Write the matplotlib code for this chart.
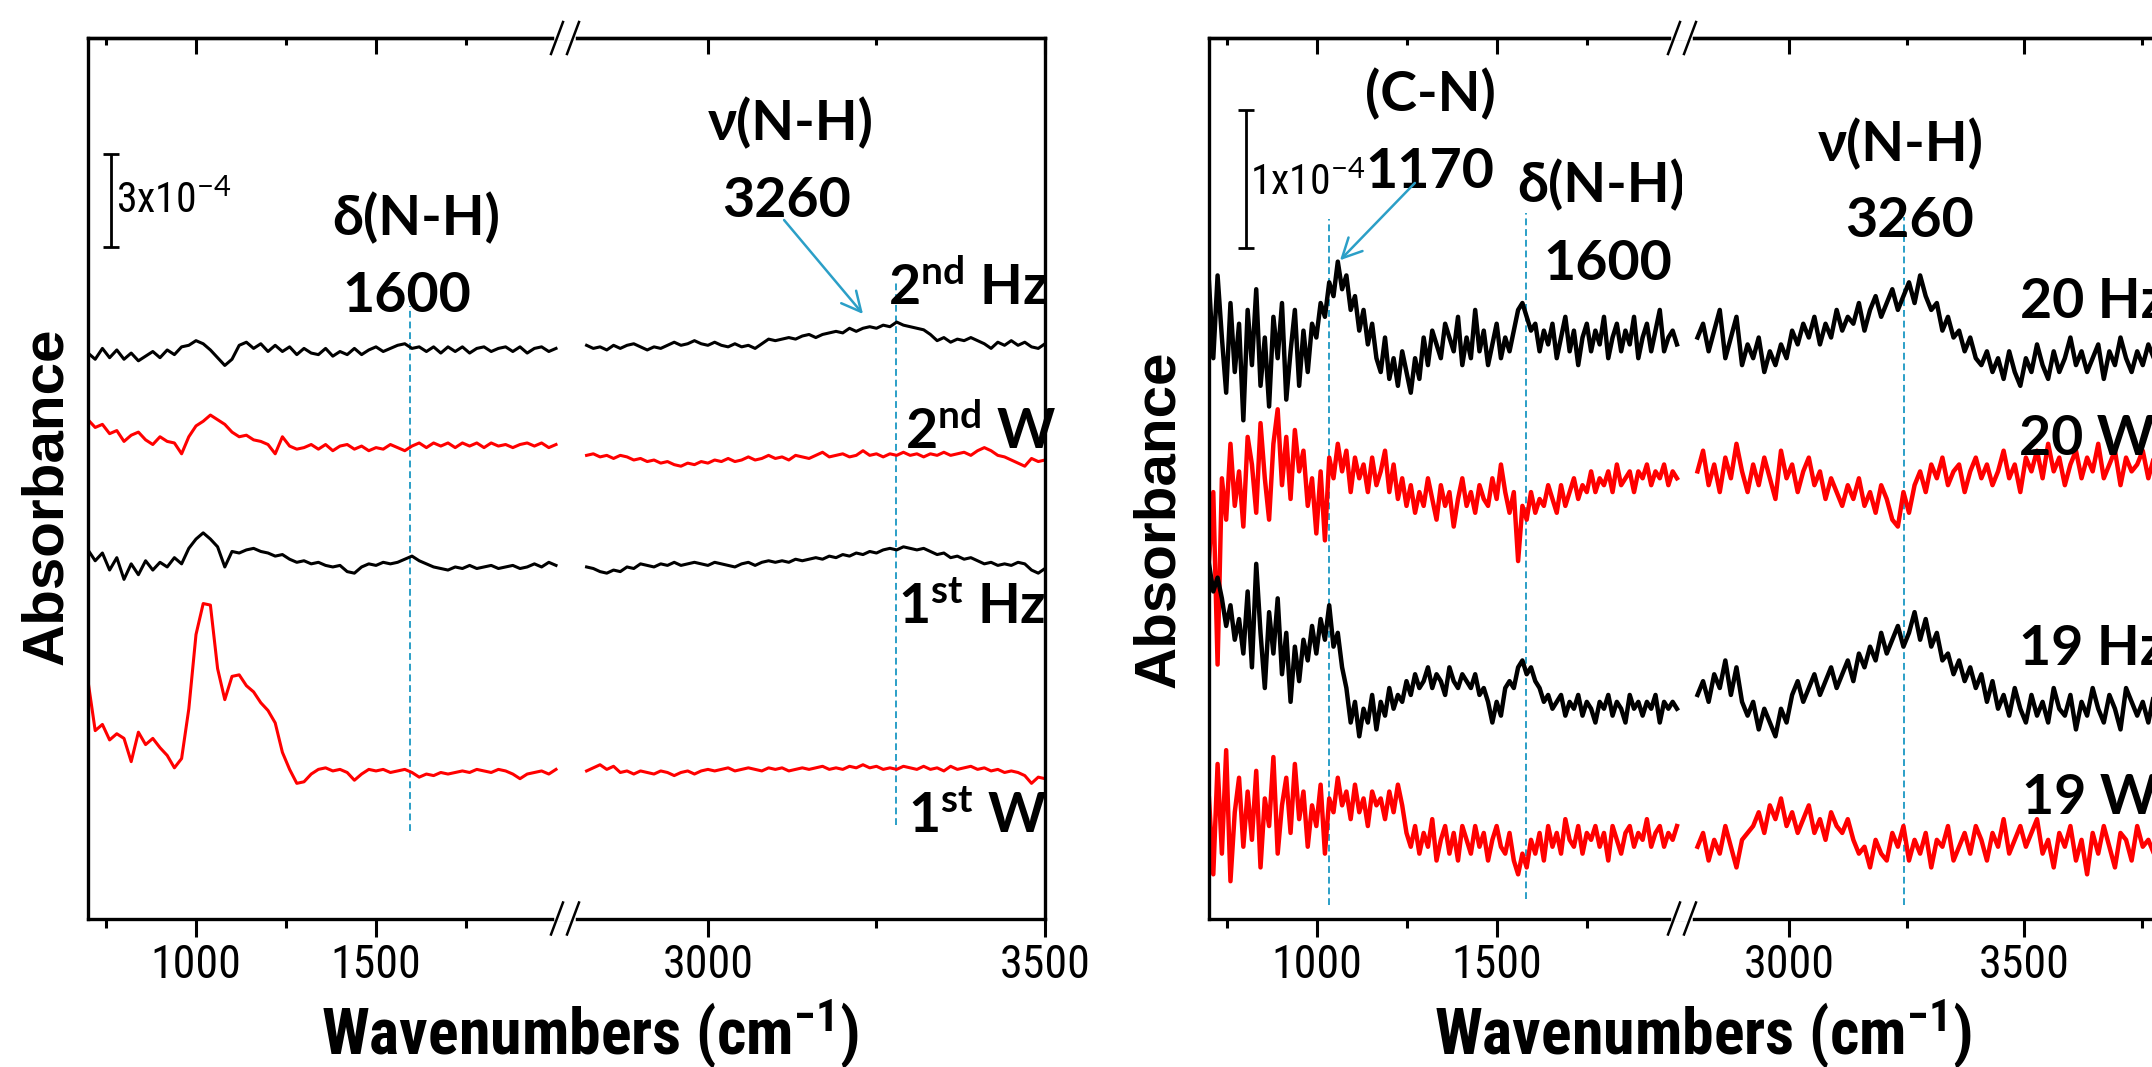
import numpy as np
import matplotlib.pyplot as plt
from matplotlib import font_manager
from matplotlib.lines import Line2D
from matplotlib.ticker import FixedLocator

# narrow sans if there is one, otherwise plain Liberation Sans at a smaller size
installed = {f.name for f in font_manager.fontManager.ttflist}
NARROW = next((n for n in ['Liberation Sans Narrow', 'Arial Narrow', 'Roboto Condensed']
               if n in installed), None)
if NARROW:
    TICK_FONT, TICK_SIZE, XLAB_SIZE, BAR_SIZE = NARROW, 33, 46, 30
else:
    TICK_FONT, TICK_SIZE, XLAB_SIZE, BAR_SIZE = 'Liberation Sans', 28, 38, 26

plt.rcParams['mathtext.fontset'] = 'custom'
plt.rcParams['mathtext.rm'] = 'Lato'
plt.rcParams['mathtext.bf'] = 'Lato:bold'
plt.rcParams['mathtext.it'] = TICK_FONT
plt.rcParams['mathtext.sf'] = TICK_FONT + ':bold'

# ---------------- data (absorbance, units of 1e-4, relative to each trace's baseline) ----------------
# left panel: 1st/2nd cycle, low part 700-2000 and high part 2820-3500 cm-1
left_lo_range = (700, 2000)
left_hi_range = (2820, 3500)
left_names = ['2nd Hz', '2nd W', '1st Hz', '1st W']
left_offsets = [18.34, 15.24, 11.44, 4.76]

hz2_lo = [-0.10, -0.30, 0.05, -0.25, 0.00, -0.30, -0.10, -0.35, -0.20, -0.05,
          -0.25, 0.00, -0.15, 0.10, 0.15, 0.30, 0.20, 0.00, -0.25, -0.50,
          -0.30, 0.15, 0.25, 0.05, 0.20, -0.05, 0.15, -0.05, 0.10, -0.15,
          0.05, -0.10, -0.15, 0.05, -0.20, -0.05, -0.15, 0.05, -0.15, 0.00,
          0.10, -0.05, 0.05, 0.15, 0.20, 0.05, 0.10, -0.05, 0.10, -0.10,
          0.10, -0.05, 0.10, -0.10, 0.05, 0.10, -0.05, 0.05, 0.10, -0.05,
          0.10, -0.10, 0.05, 0.10, -0.05, 0.05]
hz2_hi = [0.15, 0.05, 0.10, 0.00, 0.15, 0.05, 0.15, 0.20, 0.10, 0.00,
          0.10, 0.05, 0.15, 0.25, 0.15, 0.20, 0.30, 0.20, 0.15, 0.25,
          0.15, 0.10, 0.20, 0.10, 0.15, 0.05, 0.20, 0.35, 0.30, 0.35,
          0.40, 0.35, 0.45, 0.50, 0.40, 0.50, 0.55, 0.60, 0.55, 0.70,
          0.60, 0.70, 0.75, 0.70, 0.80, 0.75, 0.90, 0.80, 0.75, 0.70,
          0.65, 0.50, 0.30, 0.40, 0.25, 0.35, 0.30, 0.40, 0.30, 0.20,
          0.05, 0.25, 0.15, 0.30, 0.15, 0.25, 0.10, 0.05, 0.20]
w2_lo = [0.85, 0.60, 0.70, 0.40, 0.50, 0.15, 0.35, 0.45, 0.20, 0.05,
         0.30, 0.15, 0.10, -0.25, 0.30, 0.65, 0.80, 1.00, 0.85, 0.70,
         0.45, 0.30, 0.35, 0.20, 0.15, 0.05, -0.25, 0.30, 0.00, -0.10,
         -0.05, 0.05, -0.10, 0.05, -0.15, 0.00, 0.05, -0.10, 0.00, -0.15,
         -0.05, -0.10, 0.05, -0.05, -0.15, 0.00, 0.10, -0.05, 0.10, 0.00,
         0.10, -0.05, 0.10, 0.00, 0.10, -0.05, 0.10, 0.00, 0.05, -0.05,
         0.05, 0.10, 0.00, 0.10, -0.05, 0.05]
w2_hi = [-0.30, -0.25, -0.35, -0.30, -0.40, -0.30, -0.35, -0.45, -0.40, -0.50,
         -0.45, -0.55, -0.50, -0.60, -0.65, -0.55, -0.60, -0.50, -0.55, -0.45,
         -0.50, -0.40, -0.50, -0.45, -0.35, -0.45, -0.40, -0.30, -0.40, -0.35,
         -0.45, -0.30, -0.35, -0.40, -0.30, -0.20, -0.35, -0.30, -0.25, -0.35,
         -0.30, -0.15, -0.30, -0.25, -0.35, -0.25, -0.30, -0.20, -0.30, -0.25,
         -0.35, -0.25, -0.30, -0.20, -0.30, -0.25, -0.20, -0.30, -0.15, -0.05,
         -0.15, -0.30, -0.35, -0.45, -0.55, -0.65, -0.40, -0.50, -0.45]
hz1_lo = [0.45, 0.10, 0.35, -0.20, 0.20, -0.50, 0.00, -0.35, 0.10, -0.20,
          0.05, -0.10, 0.20, 0.00, 0.50, 0.80, 1.00, 0.80, 0.55, -0.10,
          0.40, 0.35, 0.45, 0.50, 0.40, 0.35, 0.25, 0.30, 0.15, 0.05,
          0.10, 0.00, 0.05, -0.05, -0.10, -0.05, -0.25, -0.30, -0.10, 0.00,
          -0.05, 0.05, 0.00, 0.05, 0.15, 0.25, 0.10, 0.00, -0.10, -0.15,
          -0.20, -0.10, -0.15, -0.05, -0.15, -0.10, -0.05, -0.15, -0.10, -0.05,
          -0.15, -0.10, 0.00, -0.10, 0.05, -0.05]
hz1_hi = [-0.10, -0.15, -0.25, -0.30, -0.20, -0.25, -0.10, -0.15, 0.00, -0.05,
          -0.10, 0.00, -0.05, 0.05, -0.05, 0.00, 0.05, 0.00, -0.05, 0.05,
          0.00, -0.05, -0.10, 0.00, 0.05, -0.05, 0.05, 0.10, 0.05, 0.10,
          0.05, 0.15, 0.10, 0.15, 0.20, 0.15, 0.25, 0.20, 0.30, 0.25,
          0.35, 0.30, 0.40, 0.35, 0.45, 0.50, 0.45, 0.55, 0.50, 0.45,
          0.50, 0.40, 0.30, 0.35, 0.20, 0.25, 0.15, 0.20, 0.10, 0.00,
          0.05, -0.05, 0.00, -0.05, 0.05, 0.00, -0.20, -0.30, -0.15]
w1_lo = [2.90, 1.30, 1.50, 1.00, 1.20, 1.05, 0.30, 1.25, 0.85, 1.05,
         0.75, 0.50, 0.10, 0.40, 2.00, 4.40, 5.40, 5.35, 3.30, 2.30,
         3.05, 3.10, 2.75, 2.55, 2.20, 1.95, 1.55, 0.60, 0.05, -0.40,
         -0.35, -0.10, 0.05, 0.10, 0.00, 0.05, -0.05, -0.30, -0.10, 0.05,
         0.00, 0.05, -0.05, 0.00, 0.05, -0.05, -0.20, -0.10, -0.15, -0.05,
         -0.10, -0.05, 0.00, -0.05, 0.05, 0.00, -0.05, 0.05, 0.00, -0.10,
         -0.25, -0.10, -0.05, 0.00, -0.10, 0.05]
w1_hi = [0.00, 0.10, 0.20, 0.05, 0.15, -0.05, 0.00, -0.10, 0.00, -0.05,
         -0.10, 0.00, -0.05, -0.15, -0.05, 0.00, -0.10, 0.00, 0.05, 0.00,
         0.05, 0.10, 0.00, 0.05, 0.10, 0.05, 0.00, 0.10, 0.05, 0.10,
         0.00, 0.05, 0.10, 0.05, 0.10, 0.15, 0.05, 0.10, 0.05, 0.15,
         0.10, 0.20, 0.10, 0.15, 0.05, 0.10, 0.05, 0.15, 0.10, 0.05,
         0.15, 0.05, 0.10, 0.00, 0.15, 0.05, 0.10, 0.15, 0.05, 0.10,
         0.00, 0.05, -0.05, 0.00, -0.05, -0.15, -0.40, -0.20, -0.25]

# right panel: cycles 19/20, low part 700-2000 and high part 2805-3800 cm-1
right_lo_range = (700, 2000)
right_hi_range = (2805, 3800)
right_names = ['20 Hz', '20 W', '19 Hz', '19 W']
right_offsets = [4.16, 3.14, 1.62, 0.57]

hz20_lo = [0.45, -0.10, 0.50, 0.05, -0.35, 0.30, -0.20, 0.15, -0.55, 0.25,
           -0.15, 0.40, -0.30, 0.05, -0.45, 0.20, -0.10, 0.30, -0.40, -0.05,
           0.25, -0.30, 0.10, -0.20, 0.15, 0.05, 0.30, 0.20, 0.45, 0.35,
           0.60, 0.40, 0.50, 0.25, 0.35, 0.10, 0.25, 0.00, 0.15, -0.10,
           -0.20, 0.05, -0.25, -0.10, -0.30, -0.05, -0.20, -0.35, -0.10, -0.25,
           0.05, -0.15, 0.10, 0.00, -0.10, 0.15, 0.05, -0.05, 0.20, -0.15,
           0.05, -0.10, 0.25, -0.05, 0.10, -0.15, 0.00, 0.15, -0.10, 0.05,
           -0.05, 0.10, 0.25, 0.30, 0.20, 0.10, 0.15, -0.05, 0.10, 0.00,
           0.15, -0.10, 0.05, 0.20, -0.05, 0.10, -0.15, 0.05, 0.15, -0.05,
           0.10, 0.00, 0.20, -0.10, 0.05, 0.15, -0.05, 0.10, 0.00, 0.20,
           -0.10, 0.05, 0.15, -0.05, 0.10, 0.25, -0.05, 0.05, 0.10, 0.00]
hz20_hi = [0.05, 0.15, -0.05, 0.10, 0.25, -0.10, 0.05, 0.20, -0.15, 0.00,
           -0.10, 0.05, -0.20, -0.05, -0.15, 0.00, -0.10, 0.10, 0.00, 0.15,
           0.05, 0.20, 0.00, 0.15, 0.05, 0.25, 0.10, 0.20, 0.15, 0.30,
           0.10, 0.25, 0.35, 0.20, 0.30, 0.40, 0.25, 0.35, 0.45, 0.30,
           0.50, 0.35, 0.25, 0.30, 0.10, 0.20, 0.05, 0.10, -0.05, 0.05,
           -0.10, -0.15, -0.05, -0.20, -0.10, -0.25, -0.05, -0.20, -0.30, -0.10,
           -0.20, 0.00, -0.15, -0.25, -0.05, -0.20, -0.10, 0.05, -0.15, -0.05,
           -0.20, -0.10, 0.00, -0.25, -0.05, -0.15, 0.05, -0.10, -0.20, -0.05,
           -0.15, 0.00, -0.10, -0.20, -0.05]
w20_lo = [-0.55, -0.05, -1.30, 0.05, -0.25, 0.30, -0.15, 0.10, -0.30, 0.35,
          0.15, -0.20, 0.45, 0.05, -0.25, 0.30, 0.55, 0.00, 0.35, -0.10,
          0.40, 0.10, 0.25, -0.15, 0.05, -0.35, 0.10, -0.40, 0.20, 0.05,
          0.30, 0.10, 0.25, -0.05, 0.20, 0.05, 0.15, -0.05, 0.20, 0.00,
          0.10, 0.25, -0.05, 0.15, -0.10, 0.05, -0.15, 0.00, -0.20, -0.05,
          -0.15, 0.05, -0.10, -0.25, 0.00, -0.15, -0.05, -0.30, -0.10, 0.05,
          -0.15, -0.05, -0.20, 0.00, -0.10, -0.15, 0.05, -0.10, 0.15, -0.05,
          -0.20, -0.05, -0.55, -0.15, -0.25, -0.05, -0.20, -0.10, -0.15, 0.00,
          -0.10, -0.20, 0.00, -0.15, -0.05, 0.05, -0.10, 0.00, -0.05, 0.10,
          -0.05, 0.05, 0.00, 0.10, -0.05, 0.15, 0.00, 0.05, 0.10, -0.05,
          0.10, 0.05, 0.15, 0.00, 0.10, 0.05, 0.15, 0.00, 0.10, 0.05]
w20_hi = [0.10, 0.25, 0.00, 0.15, -0.05, 0.20, 0.05, 0.30, 0.10, -0.05,
          0.15, 0.00, 0.20, 0.05, -0.10, 0.25, 0.05, 0.15, -0.05, 0.10,
          0.20, 0.00, 0.10, -0.10, 0.05, -0.05, -0.15, 0.00, -0.10, 0.05,
          -0.15, -0.05, -0.20, 0.00, -0.10, -0.25, -0.30, -0.05, -0.20, 0.00,
          0.10, -0.05, 0.15, 0.05, 0.20, 0.00, 0.10, 0.15, -0.05, 0.10,
          0.20, 0.05, 0.15, 0.00, 0.10, 0.25, 0.05, 0.15, -0.05, 0.20,
          0.10, 0.25, 0.05, 0.30, 0.10, 0.20, 0.00, 0.15, 0.25, 0.05,
          0.20, 0.10, 0.30, 0.05, 0.15, 0.25, 0.00, 0.20, 0.10, 0.15,
          0.25, 0.05, 0.20, 0.10, 0.15]
hz19_lo = [0.95, 0.75, 0.85, 0.70, 0.50, 0.65, 0.40, 0.55, 0.30, 0.75,
           0.20, 0.95, 0.45, 0.05, 0.60, 0.30, 0.70, 0.15, 0.45, -0.05,
           0.35, 0.10, 0.40, 0.25, 0.50, 0.30, 0.55, 0.40, 0.65, 0.35,
           0.45, 0.20, 0.05, -0.20, -0.05, -0.30, -0.10, -0.20, 0.00, -0.25,
           -0.05, -0.15, 0.05, -0.10, 0.00, -0.05, 0.10, 0.00, 0.15, 0.05,
           0.10, 0.20, 0.05, 0.15, 0.10, 0.00, 0.20, 0.10, 0.05, 0.15,
           0.10, 0.05, 0.15, 0.00, 0.05, -0.05, -0.20, -0.05, -0.15, 0.05,
           0.10, 0.05, 0.20, 0.25, 0.15, 0.20, 0.10, 0.05, -0.05, 0.00,
           -0.10, -0.05, 0.00, -0.15, -0.05, -0.10, 0.00, -0.15, -0.05, -0.10,
           -0.20, -0.05, -0.10, 0.00, -0.15, -0.05, -0.10, -0.20, 0.00, -0.10,
           -0.05, -0.15, -0.05, -0.10, 0.00, -0.20, -0.05, -0.10, -0.05, -0.10]
hz19_hi = [0.00, 0.10, -0.05, 0.15, 0.05, 0.25, 0.00, 0.20, -0.05, -0.15,
           -0.05, -0.25, -0.10, -0.20, -0.30, -0.10, -0.20, 0.00, 0.10, -0.05,
           0.05, 0.15, 0.00, 0.10, 0.20, 0.05, 0.15, 0.25, 0.10, 0.30,
           0.20, 0.35, 0.25, 0.45, 0.30, 0.40, 0.50, 0.35, 0.45, 0.60,
           0.40, 0.55, 0.35, 0.45, 0.25, 0.30, 0.15, 0.25, 0.10, 0.20,
           0.05, 0.15, -0.05, 0.10, -0.10, 0.00, -0.15, 0.05, -0.10, -0.20,
           0.00, -0.15, -0.05, -0.20, 0.05, -0.10, -0.15, 0.00, -0.25, -0.05,
           -0.15, 0.05, -0.10, -0.20, 0.00, -0.10, -0.25, 0.05, -0.05, -0.15,
           -0.05, -0.20, 0.00, -0.10, -0.05]
w19_lo = [0.30, -0.25, 0.55, -0.10, 0.65, -0.30, 0.20, 0.45, -0.05, 0.35,
          0.00, 0.50, -0.20, 0.30, 0.10, 0.60, -0.10, 0.25, 0.45, 0.05,
          0.55, 0.15, 0.35, -0.05, 0.25, 0.10, 0.40, -0.10, 0.30, 0.20,
          0.45, 0.25, 0.35, 0.15, 0.40, 0.20, 0.30, 0.10, 0.35, 0.25,
          0.30, 0.15, 0.35, 0.20, 0.40, 0.25, 0.05, -0.05, 0.10, -0.10,
          0.05, -0.05, 0.15, -0.15, 0.00, 0.10, -0.10, 0.05, -0.15, 0.10,
          0.00, -0.10, 0.10, -0.05, 0.05, -0.15, 0.00, 0.10, -0.05, -0.10,
          0.05, -0.15, -0.25, -0.10, -0.20, 0.00, -0.10, 0.05, -0.15, 0.10,
          -0.05, 0.05, -0.10, 0.15, 0.00, -0.05, 0.10, -0.10, 0.05, 0.00,
          0.10, -0.05, 0.05, -0.15, 0.10, 0.00, -0.10, 0.05, 0.10, -0.05,
          0.05, 0.00, 0.15, -0.05, 0.05, 0.10, -0.05, 0.05, 0.00, 0.10]
w19_hi = [-0.05, 0.05, -0.15, 0.00, -0.10, 0.10, -0.05, -0.20, 0.00, 0.05,
          0.10, 0.20, 0.05, 0.25, 0.15, 0.30, 0.10, 0.20, 0.05, 0.15,
          0.25, 0.05, 0.15, 0.00, 0.20, 0.10, 0.05, 0.15, 0.00, -0.10,
          -0.05, -0.20, 0.00, -0.10, -0.15, 0.05, -0.05, 0.10, -0.15, 0.00,
          -0.10, 0.05, -0.20, 0.00, -0.05, 0.10, -0.15, -0.05, 0.05, -0.10,
          0.10, 0.00, -0.15, 0.05, -0.05, 0.15, -0.10, 0.00, 0.10, -0.05,
          0.05, 0.15, -0.10, 0.00, -0.20, 0.05, -0.05, 0.10, -0.15, 0.00,
          -0.25, 0.05, -0.10, 0.10, -0.05, -0.20, 0.05, 0.00, -0.15, 0.10,
          -0.05, 0.00, -0.10, 0.05, 0.00]

left_traces = [(hz2_lo, hz2_hi), (w2_lo, w2_hi), (hz1_lo, hz1_hi), (w1_lo, w1_hi)]
right_traces = [(hz20_lo, hz20_hi), (w20_lo, w20_hi), (hz19_lo, hz19_hi), (w19_lo, w19_hi)]
colors = ['black', 'red', 'black', 'red']

# band positions (cm-1) marked with dashed lines
left_bands = [1595, 3279]
right_bands = [1033, 1580, 3245]

TEAL = '#2b9fc7'
W, H = 2152, 1067

fig = plt.figure(figsize=(W / 100, H / 100), dpi=100)
fig.patch.set_facecolor('white')


def add_px_axes(x0, x1, y0=38, y1=918.5):
    return fig.add_axes([x0 / W, 1 - y1 / H, (x1 - x0) / W, (y1 - y0) / H])


def style_axis(ax, xlim, ylim, major, minor, side):
    ax.set_xlim(xlim)
    ax.set_ylim(ylim)
    ax.set_yticks([])
    for s in ax.spines.values():
        s.set_linewidth(2.4)
    if side == 'lo':
        ax.spines['right'].set_visible(False)
    else:
        ax.spines['left'].set_visible(False)
    ax.xaxis.set_major_locator(FixedLocator(major))
    ax.xaxis.set_minor_locator(FixedLocator(minor))
    ax.tick_params(axis='x', which='major', direction='out', length=13, width=2.2,
                   labelsize=TICK_SIZE, pad=5, top=False, labelfontfamily=TICK_FONT)
    ax.tick_params(axis='x', which='minor', direction='out', length=6.5, width=2.2, top=False)
    sec = ax.secondary_xaxis('top')
    sec.xaxis.set_major_locator(FixedLocator(major))
    sec.xaxis.set_minor_locator(FixedLocator(minor))
    sec.tick_params(axis='x', which='major', direction='in', length=11.5, width=2.2, labeltop=False)
    sec.tick_params(axis='x', which='minor', direction='in', length=5, width=2.2)
    sec.spines['top'].set_linewidth(2.4)


def break_marks(xb):
    for yb in (38, 918.5):
        fig.add_artist(Line2D([(xb - 8) / W, (xb + 8) / W], [1 - yb / H, 1 - yb / H],
                              color='white', lw=4, transform=fig.transFigure, zorder=10))
        for dx in (-8, 8):
            fig.add_artist(Line2D([(xb + dx - 6) / W, (xb + dx + 6) / W],
                                  [1 - (yb + 16) / H, 1 - (yb - 16) / H],
                                  color='black', lw=1.8, transform=fig.transFigure, zorder=11))


def draw_traces(axa, axb, traces, offsets, lo_range, hi_range, lw):
    for (lo, hi), off, c in zip(traces, offsets, colors):
        axa.plot(np.linspace(*lo_range, len(lo)), np.array(lo) + off, color=c, lw=lw)
        axb.plot(np.linspace(*hi_range, len(hi)), np.array(hi) + off, color=c, lw=lw)


def vline(ax, x, y0, y1):
    ax.plot([x, x], [y0, y1], color=TEAL, lw=1.4, ls=(0, (3.5, 2)), zorder=1)


bold_font = dict(family=['Lato', 'Open Sans', 'DejaVu Sans'], weight='bold', fontsize=40)
bar_font = dict(family=TICK_FONT, fontsize=BAR_SIZE)

# ---------------- left panel ----------------
ylim_l = (0, 880.5 / 31)
ax1 = add_px_axes(88, 565)
ax2 = add_px_axes(565, 1045)
style_axis(ax1, (700, 2025), ylim_l, [1000, 1500], [750, 1250, 1750], 'lo')
style_axis(ax2, (2788, 3500), ylim_l, [3000, 3500], [3250], 'hi')
draw_traces(ax1, ax2, left_traces, left_offsets, left_lo_range, left_hi_range, 2.2)
break_marks(565)

vline(ax1, left_bands[0], 2.82, 19.76)
vline(ax2, left_bands[1], 3.02, 20.53)

ax1.errorbar([764], [23.16], yerr=[1.5], fmt='none', ecolor='black', elinewidth=2,
             capsize=5.5, capthick=2)
ax1.text(778, 22.76, r'3x10$^{\mathit{-4}}$', **bar_font)

ax1.text(1611, 22.05, 'δ(N-H)', ha='center', va='baseline', **bold_font)
ax1.text(1586, 19.57, '1600', ha='center', va='baseline', **bold_font)
ax2.text(3123, 25.11, 'ν(N-H)', ha='center', va='baseline', **bold_font)
ax2.text(3116, 22.63, '3260', ha='center', va='baseline', **bold_font)
ax2.annotate('', xy=(3230, 19.5), xytext=(3113, 22.53),
             arrowprops=dict(arrowstyle='->', color=TEAL, lw=1.8, mutation_scale=35,
                             shrinkA=0, shrinkB=0))

left_label_pos = [(3267, 19.79), (3292, 15.15), (3282, 9.5), (3297, 2.76)]
left_label_txt = [r'2$^{\mathbf{nd}}$ Hz', r'2$^{\mathbf{nd}}$ W',
                  r'1$^{\mathbf{st}}$ Hz', r'1$^{\mathbf{st}}$ W']
for (x, y), t in zip(left_label_pos, left_label_txt):
    ax2.text(x, y, t, ha='left', va='baseline', **bold_font)

# ---------------- right panel ----------------
ylim_r = (0, 880.5 / 138)
ax3 = add_px_axes(1209, 1682)
ax4 = add_px_axes(1682, 2259)
style_axis(ax3, (700, 2014), ylim_r, [1000, 1500], [750, 1250, 1750], 'lo')
style_axis(ax4, (2772, 4000), ylim_r, [3000, 3500, 4000], [3250, 3750], 'hi')
draw_traces(ax3, ax4, right_traces, right_offsets, right_lo_range, right_hi_range, 3.2)
break_marks(1682)

vline(ax3, right_bands[0], 0.10, 5.07)
vline(ax3, right_bands[1], 0.14, 5.11)
vline(ax4, right_bands[2], 0.10, 5.08)

ax3.errorbar([803], [5.36], yerr=[0.5], fmt='none', ecolor='black', elinewidth=2,
             capsize=5.5, capthick=2)
ax3.text(814, 5.24, r'1x10$^{\mathit{-4}}$', **bar_font)

ax3.text(1314, 5.85, '(C-N)', ha='center', va='baseline', **bold_font)
ax3.text(1314, 5.29, '1170', ha='center', va='baseline', **bold_font)
ax3.text(1789, 5.19, 'δ(N-H)', ha='center', va='baseline', **bold_font)
ax3.text(1808, 4.63, '1600', ha='center', va='baseline', **bold_font)
ax4.text(3238, 5.49, 'ν(N-H)', ha='center', va='baseline', **bold_font)
ax4.text(3257, 4.94, '3260', ha='center', va='baseline', **bold_font)
ax3.annotate('', xy=(1064, 4.77), xytext=(1272, 5.33),
             arrowprops=dict(arrowstyle='->', color=TEAL, lw=1.8, mutation_scale=35,
                             shrinkA=0, shrinkB=0))

right_label_pos = [(3491, 4.35), (3489, 3.36), (3489, 1.84), (3496, 0.76)]
for (x, y), t in zip(right_label_pos, right_names):
    ax4.text(x, y, t, ha='left', va='baseline', **bold_font)

# ---------------- axis titles ----------------
for xc, yc in ((47, 496), (1159, 519)):
    fig.text(xc / W, 1 - yc / H, 'Absorbance', rotation=90, ha='center', va='center',
             fontsize=42, fontweight='bold', family='Liberation Sans')
for xc in (590, 1703):
    fig.text(xc / W, 1 - 1055 / H, r'Wavenumbers (cm$^{\mathsf{-1}}$)', ha='center',
             va='baseline', fontsize=XLAB_SIZE, fontweight='bold', family=TICK_FONT)

fig.savefig('out.png', dpi=100)
